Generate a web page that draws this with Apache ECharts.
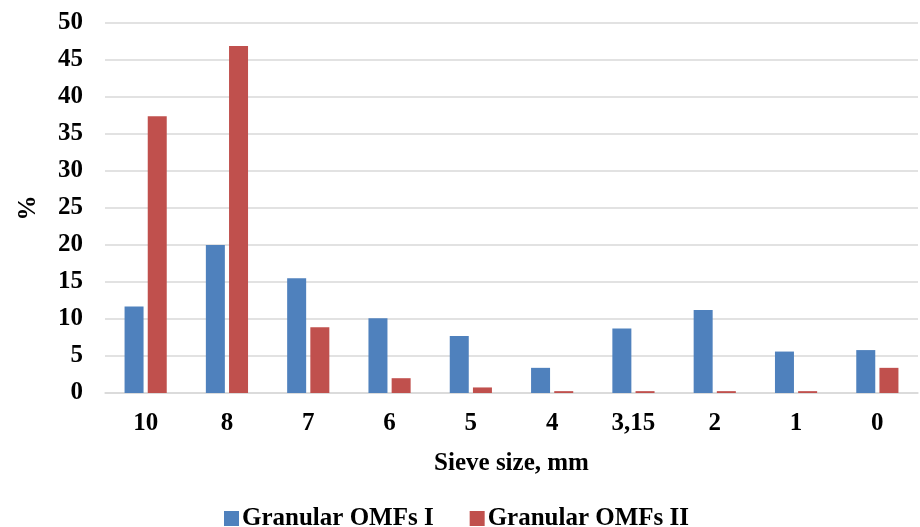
<!DOCTYPE html>
<html><head><meta charset="utf-8">
<script src="https://cdn.jsdelivr.net/npm/echarts@6/dist/echarts.min.js"></script>
<style>html,body{margin:0;padding:0;background:#fff}#c{width:920px;height:527px}</style>
</head><body><div id="c"></div>
<script>
const categories = ['10','8','7','6','5','4','3,15','2','1','0'];
const omfsI = [11.7, 20.0, 15.5, 10.1, 7.7, 3.4, 8.7, 11.2, 5.6, 5.8];
const omfsII = [37.4, 46.9, 8.9, 2.0, 0.75, 0.25, 0.25, 0.25, 0.25, 3.4];
const font = '"Liberation Serif", "Times New Roman", serif';
const chart = echarts.init(document.getElementById('c'));
chart.setOption({
  animation: false,
  textStyle: {fontFamily: font},
  grid: {left: 105, right: 2, top: 23, bottom: 134, containLabel: false, outerBoundsMode: 'none'},
  legend: {
    top: 501, left: 219,
    itemWidth: 15, itemHeight: 15, itemGap: 36,
    icon: 'rect',
    textStyle: {fontFamily: font, fontWeight: 'bold', fontSize: 25, color: '#000', padding: [0, 0, 0, -2]},
    data: ['Granular OMFs I', 'Granular OMFs II']
  },
  xAxis: {
    type: 'category', data: categories,
    name: 'Sieve size, mm', nameLocation: 'middle', nameGap: 58,
    nameTextStyle: {fontFamily: font, fontWeight: 'bold', fontSize: 25, color: '#000'},
    axisLine: {lineStyle: {color: '#d9d9d9', width: 1.5}},
    axisTick: {show: false},
    axisLabel: {fontFamily: font, fontWeight: 'bold', fontSize: 25, color: '#000', margin: 18}
  },
  yAxis: {
    type: 'value', min: 0, max: 50, interval: 5,
    name: '%', nameLocation: 'middle', nameGap: 64, nameRotate: 90,
    nameTextStyle: {fontFamily: font, fontWeight: 'bold', fontSize: 25, color: '#000'},
    axisLine: {show: false}, axisTick: {show: false},
    axisLabel: {fontFamily: font, fontWeight: 'bold', fontSize: 25, color: '#000', margin: 22},
    splitLine: {lineStyle: {color: '#d9d9d9', width: 1.5}}
  },
  series: [
    {name: 'Granular OMFs I', type: 'bar', data: omfsI, barWidth: 19, barGap: '22%',
     itemStyle: {color: '#4f81bd'}},
    {name: 'Granular OMFs II', type: 'bar', data: omfsII, barWidth: 19,
     itemStyle: {color: '#c0504d'}}
  ]
});
</script></body></html>
